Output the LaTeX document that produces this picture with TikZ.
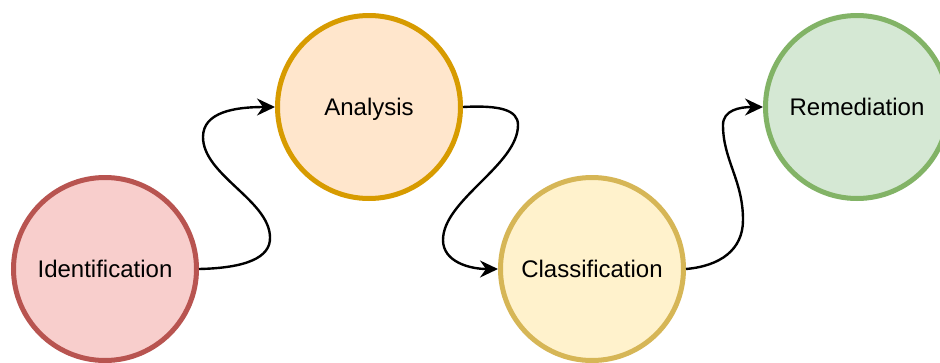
\documentclass[tikz,border=0pt]{standalone}
\usepackage{fontspec}
\setmainfont{Liberation Sans}
\usetikzlibrary{arrows.meta}
\definecolor{redfill}{HTML}{F8CECC}
\definecolor{redline}{HTML}{B85450}
\definecolor{orangefill}{HTML}{FFE6CC}
\definecolor{orangeline}{HTML}{D79B00}
\definecolor{yellowfill}{HTML}{FFF2CC}
\definecolor{yellowline}{HTML}{D6B656}
\definecolor{greenfill}{HTML}{D5E8D4}
\definecolor{greenline}{HTML}{82B366}
\tikzset{
  stage/.style={circle, line width=5pt, minimum size=183pt, inner sep=0pt,
    text height=17.2pt, text depth=0pt,
    font=\fontsize{24pt}{28pt}\selectfont},
  flow/.style={line width=2.4pt, -{Stealth[length=18pt,width=17pt,inset=6pt]}}
}
\begin{document}
\begin{tikzpicture}[x=1pt,y=-1pt]
\path[use as bounding box, clip] (0,0) rectangle (940,362);
\fill[white] (0,0) rectangle (940,362);
\node[stage, draw=redline, fill=redfill] (id) at (105,269) {Identification};
\node[stage, draw=orangeline, fill=orangefill] (an) at (369,107) {Analysis};
\node[stage, draw=yellowline, fill=yellowfill] (cl) at (592,269) {Classification};
\node[stage, draw=greenline, fill=greenfill] (rem) at (857,107) {Remediation};
\draw[flow] (id.east) .. controls (245,268) and (271,258) .. (270,237)
  .. controls (269,200) and (203,175) .. (203,137)
  .. controls (203,112) and (235,107) .. (an.west);
\draw[flow] (an.east) .. controls (500,105) and (518,110) .. (518,125)
  .. controls (518,165) and (443,200) .. (443,240)
  .. controls (443,262) and (470,269) .. (cl.west);
\draw[flow] (cl.east) .. controls (720,266) and (743,250) .. (743,220)
  .. controls (743,180) and (723,160) .. (723,125)
  .. controls (723,110) and (740,107) .. (rem.west);
\end{tikzpicture}
\end{document}
